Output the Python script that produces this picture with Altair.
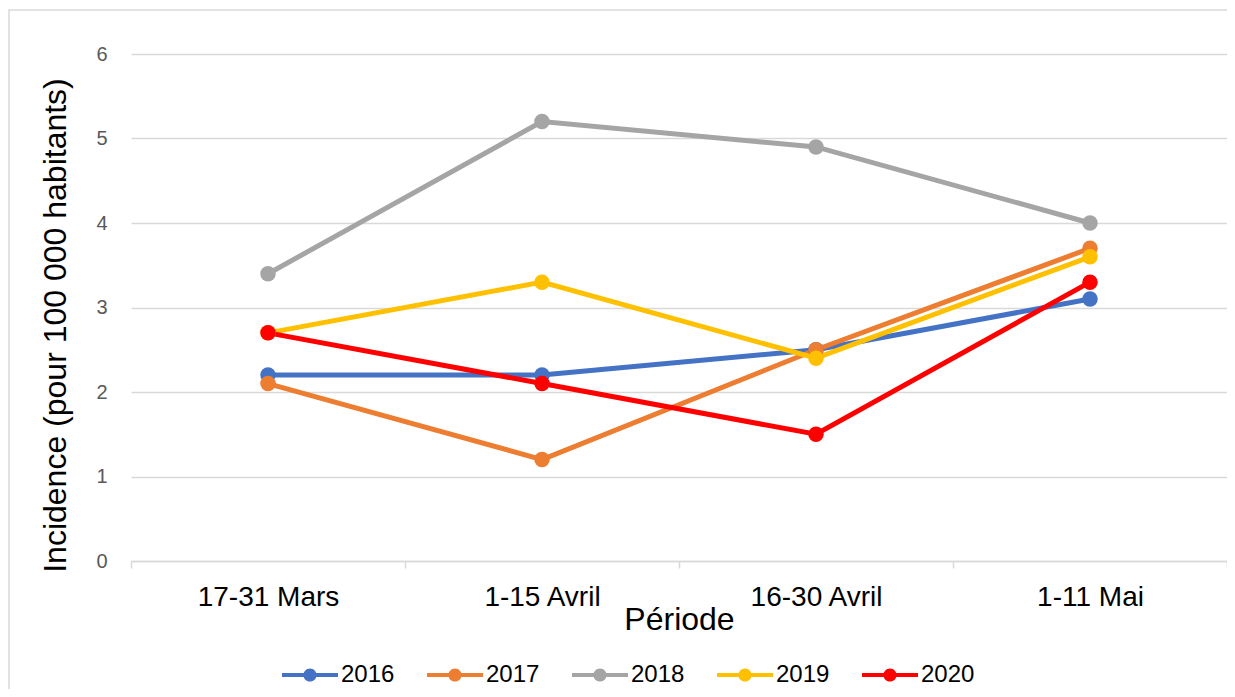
import altair as alt
import pandas as pd

periods = ["17-31 Mars", "1-15 Avril", "16-30 Avril", "1-11 Mai"]
years = ["2016", "2017", "2018", "2019", "2020"]
v2016 = [2.2, 2.2, 2.5, 3.1]
v2017 = [2.1, 1.2, 2.5, 3.7]
v2018 = [3.4, 5.2, 4.9, 4.0]
v2019 = [2.7, 3.3, 2.4, 3.6]
v2020 = [2.7, 2.1, 1.5, 3.3]
colors = ["#4472C4", "#ED7D31", "#A5A5A5", "#FFC000", "#FF0000"]

rows = []
for y, vals in zip(years, [v2016, v2017, v2018, v2019, v2020]):
    for p, v in zip(periods, vals):
        rows.append({"Période": p, "Année": y, "Incidence": v})
df = pd.DataFrame(rows)

FONT = "Liberation Sans"
W, H = 1096, 507

x_enc = alt.X("Période:N", sort=periods, bandPosition=0.5,
              scale=alt.Scale(type="band", paddingInner=0, paddingOuter=0),
              axis=alt.Axis(title="Période", labelAngle=0, tickBand="extent",
                            domainColor="#d9d9d9", tickColor="#d9d9d9", tickSize=7,
                            tickWidth=1.5, domainWidth=1.5,
                            labelFontSize=28, labelColor="#000000", labelPadding=15,
                            labelFont=FONT, titleFont=FONT, titleFontSize=32,
                            titleFontWeight="normal", titleColor="#000000",
                            titleBaseline="alphabetic", titleY=68, grid=False))
y_enc = alt.Y("Incidence:Q",
              scale=alt.Scale(domain=[0, 6], nice=False),
              axis=alt.Axis(title="Incidence (pour 100 000 habitants)",
                            values=[0, 1, 2, 3, 4, 5, 6],
                            domain=False, ticks=False, labelPadding=24,
                            labelFontSize=20, labelColor="#595959", labelFont=FONT,
                            gridColor="#d9d9d9", gridWidth=1.5,
                            titleFont=FONT, titleFontSize=32, titleFontWeight="normal",
                            titleColor="#000000", titleX=-76, titleY=271,
                            titleBaseline="middle", titleAngle=-90))
color_scale = alt.Scale(domain=years, range=colors)

sym = ("M-1,-0.075H1V0.075H-1Z "
       "M0,-0.235A0.235,0.235,0,1,1,0,0.235A0.235,0.235,0,1,1,0,-0.235Z")

legend = alt.Legend(title=None, orient="none", direction="horizontal",
                    columns=5, legendX=151, legendY=593,
                    symbolType=sym, symbolSize=3136,
                    symbolStrokeWidth=0, symbolOpacity=1,
                    labelFont=FONT, labelFontSize=24,
                    labelColor="#000000", labelOffset=3,
                    columnPadding=32)

color_enc = alt.Color("Année:N", scale=color_scale, legend=legend)

lines = alt.Chart(df).mark_line(strokeWidth=5).encode(
    x=x_enc, y=y_enc, color=color_enc,
)
points = alt.Chart(df).mark_point(filled=True, size=240, opacity=1).encode(
    x=x_enc, y=y_enc, color=color_enc,
)

border = alt.Chart(pd.DataFrame({"a": [0]})).mark_rect(
    fill=None, stroke="#d9d9d9", strokeWidth=1.5, clip=False
).encode(x=alt.value(-122), x2=alt.value(1200), y=alt.value(-44), y2=alt.value(700))

chart = alt.layer(border, lines, points).properties(
    width=W, height=H,
    background="white",
    padding={"left": 123, "top": 46, "right": 0, "bottom": 128},
    autosize=alt.AutoSizeParams(type="none"),
).configure_view(stroke=None)

chart.save("out.html", embed_options={"renderer": "svg", "actions": False})
